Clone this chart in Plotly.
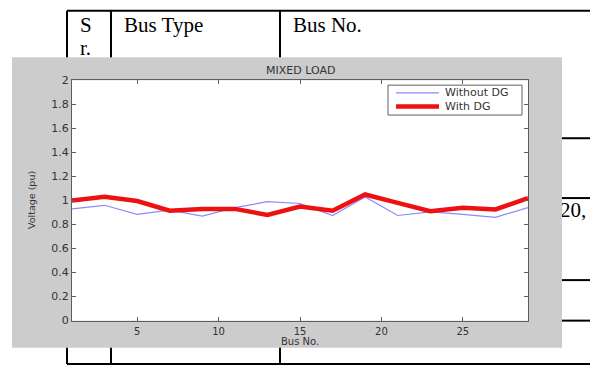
import plotly.graph_objects as go

# ---- chart data -------------------------------------------------------
bus_no = [1, 3, 5, 7, 9, 11, 13, 15, 17, 19, 21, 23, 25, 27, 29]
without_dg = [0.93, 0.96, 0.885, 0.92, 0.87, 0.94, 0.99, 0.975, 0.875, 1.03,
              0.875, 0.905, 0.885, 0.86, 0.94]
with_dg = [1.00, 1.03, 0.995, 0.915, 0.93, 0.93, 0.88, 0.95, 0.915, 1.05,
           0.98, 0.91, 0.94, 0.925, 1.02]
series_names = ["Without DG", "With DG"]
x_ticks = [5, 10, 15, 20, 25]
y_ticks = [0, 0.2, 0.4, 0.6, 0.8, 1, 1.2, 1.4, 1.6, 1.8, 2]
y_tick_text = ["0", "0.2", "0.4", "0.6", "0.8", "1", "1.2", "1.4", "1.6", "1.8", "2"]

# ---- page geometry (pixels) -------------------------------------------
W, H = 597, 373
AX_L, AX_R, AX_T, AX_B = 72, 528, 77, 326      # plotting box
FIG_L, FIG_R, FIG_T, FIG_B = 12, 562, 53, 354  # grey figure window
FIG_GREY = "#cccccc"
AXIS_GREY = "#5e5e5e"
TXT = "#333333"
SERIF = "Liberation Serif, Times New Roman, serif"
SANS = "DejaVu Sans, Verdana, sans-serif"

line_styles = [dict(color="#8a8aff", width=1.2), dict(color="#ee1111", width=4.5)]

# table rules behind the figure window
table_h = [(5, 67, 590), (371, 67, 590), (137, FIG_R, 590), (199, FIG_R, 590),
           (284, FIG_R, 590), (326, FIG_R, 590)]
table_v = [(67, 5, 371), (111, 5, 371), (280, 5, 371)]
cell_text = [("S", 80, 21), ("r.", 80, 45), ("Bus Type", 124, 21),
             ("Bus No.", 293, 21), ("20,", 560, 213)]

fig = go.Figure()

# page layer: table, its text, then the grey window on top of it
lx, ly = [], []
for y, x0, x1 in table_h:
    lx += [x0, x1, None]
    ly += [y, y, None]
for x, y0, y1 in table_v:
    lx += [x, x, None]
    ly += [y0, y1, None]
fig.add_trace(go.Scatter(x=lx, y=ly, mode="lines", line=dict(color="black", width=2),
                         showlegend=False, hoverinfo="skip", xaxis="x", yaxis="y"))

fig.add_trace(go.Scatter(
    x=[c[1] for c in cell_text], y=[c[2] for c in cell_text],
    text=[c[0] for c in cell_text], mode="text", textposition="middle right",
    textfont=dict(family=SERIF, size=21, color="black"),
    showlegend=False, hoverinfo="skip", xaxis="x", yaxis="y"))

fig.add_trace(go.Scatter(
    x=[FIG_L, FIG_R, FIG_R, FIG_L, FIG_L], y=[FIG_T, FIG_T, FIG_B, FIG_B, FIG_T],
    mode="lines", fill="toself", fillcolor=FIG_GREY, line=dict(width=0, color=FIG_GREY),
    showlegend=False, hoverinfo="skip", xaxis="x", yaxis="y"))

# voltage profiles
for name, vals, style in zip(series_names, [without_dg, with_dg], line_styles):
    fig.add_trace(go.Scatter(x=bus_no, y=vals, mode="lines", name=name, line=style,
                             showlegend=False, xaxis="x2", yaxis="y2"))

# MATLAB-style legend box in the upper right of the axes
LEG_L, LEG_R, LEG_T, LEG_B = 388, 522, 82, 113
leg_rows = [90, 104]
shapes = [dict(type="rect", xref="x", yref="y", x0=LEG_L, x1=LEG_R, y0=LEG_T, y1=LEG_B,
               line=dict(color=AXIS_GREY, width=1), fillcolor="white", layer="above")]
annotations = []
for name, style, yy in zip(series_names, line_styles, leg_rows):
    shapes.append(dict(type="line", xref="x", yref="y", x0=396, x1=439, y0=yy, y1=yy,
                       line=style, layer="above"))
    annotations.append(dict(text=name, x=443, y=yy, xref="x", yref="y", showarrow=False,
                            xanchor="left", yanchor="middle",
                            font=dict(family=SANS, size=11, color=TXT)))

annotations += [
    dict(text="MIXED LOAD", x=300, y=67, xref="x", yref="y", showarrow=False,
         font=dict(family=SANS, size=11, color=TXT)),
    dict(text="Bus No.", x=300, y=348, xref="x", yref="y", showarrow=False,
         font=dict(family=SANS, size=10, color=TXT)),
    dict(text="Voltage (pu)", x=32, y=201, xref="x", yref="y", showarrow=False,
         textangle=-90, font=dict(family=SANS, size=9.5, color=TXT)),
]

ax_common = dict(showline=True, linecolor=AXIS_GREY, linewidth=1.2, mirror="allticks",
                 ticks="inside", ticklen=4, tickcolor=AXIS_GREY, showgrid=False,
                 zeroline=False, fixedrange=True)

fig.update_layout(
    width=W, height=H, margin=dict(l=0, r=0, t=0, b=0),
    paper_bgcolor="white", plot_bgcolor="white", showlegend=False,
    xaxis=dict(domain=[0, 1], range=[0, W], visible=False, fixedrange=True),
    yaxis=dict(domain=[0, 1], range=[H, 0], visible=False, fixedrange=True),
    xaxis2=dict(domain=[AX_L / W, AX_R / W], range=[1, 29], anchor="y2",
                tickvals=x_ticks, ticklabelstandoff=1,
                tickfont=dict(family=SANS, size=10, color=TXT), **ax_common),
    yaxis2=dict(domain=[1 - AX_B / H, 1 - AX_T / H], range=[0, 2], anchor="x2",
                tickvals=y_ticks, ticktext=y_tick_text,
                tickfont=dict(family=SANS, size=11, color=TXT), **ax_common),
    shapes=shapes,
    annotations=annotations,
)

fig.write_html("out.html")
